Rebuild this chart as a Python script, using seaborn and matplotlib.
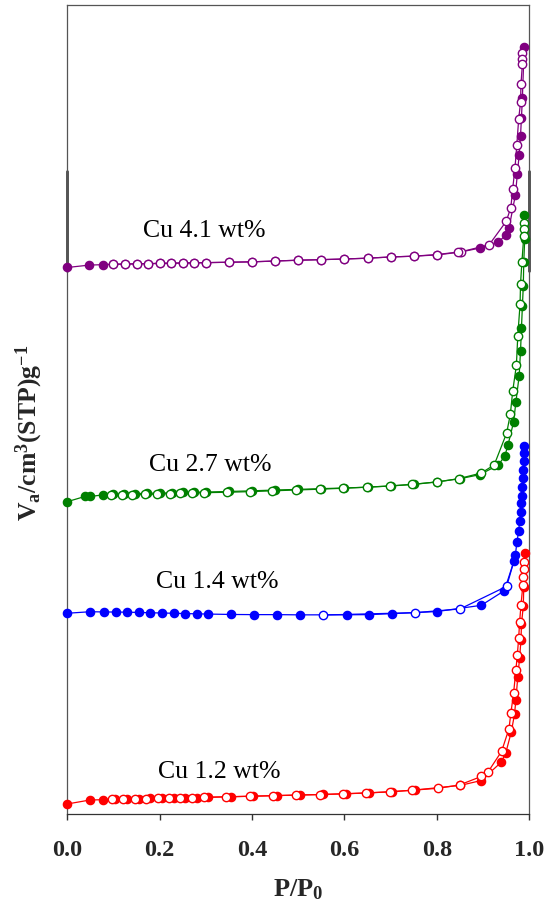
import matplotlib
matplotlib.use("Agg")
import matplotlib.pyplot as plt
import seaborn as sns
import pandas as pd

# ---------------- data (P/P0, plotted volume in stacked plot units) ----------------
series_names = ["Cu 1.2 wt%", "Cu 1.4 wt%", "Cu 2.7 wt%", "Cu 4.1 wt%"]
series_colors = ["#ff0000", "#0000ff", "#008000", "#800080"]

red_ads_p = [0, .049, .078, .104, .13, .155, .18, .205, .23, .255, .28, .305, .354, .403, .454,
             .504, .554, .604, .653, .703, .753, .851, .896, .939, .949, .961, .968, .971, .975,
             .979, .982, .983, .987, .988, .990]
red_ads_v = [1.2, 1.69, 1.73, 1.78, 1.82, 1.86, 1.89, 1.92, 1.95, 1.98, 2.0, 2.03, 2.1, 2.17, 2.24,
             2.31, 2.38, 2.47, 2.58, 2.72, 2.93, 3.5, 4.1, 6.35, 7.5, 10.1, 12.3, 14.1, 16.9,
             19.25, 21.5, 23.4, 25.7, 28.0, 32.2]
red_des_p = [.988, .988, .987, .986, .982, .979, .977, .974, .971, .966, .960, .956, .940, .911,
             .896, .849, .803, .747, .698, .646, .596, .546, .495, .445, .396, .344, .295, .27,
             .245, .22, .196, .17, .146, .121, .097]
red_des_v = [31.1, 30.2, 29.2, 28.2, 25.8, 23.7, 21.7, 19.6, 17.8, 14.9, 12.4, 10.5, 7.7, 5.19,
             4.6, 3.55, 3.14, 2.9, 2.7, 2.55, 2.45, 2.36, 2.3, 2.22, 2.15, 2.08, 2.02, 1.99,
             1.96, 1.93, 1.9, 1.87, 1.84, 1.8, 1.76]

blue_ads_p = [0, .05, .08, .105, .13, .156, .18, .205, .23, .255, .28, .305, .355, .405, .454,
              .504, .605, .653, .703, .80, .896, .946, .967, .970, .973, .977, .979, .982, .983,
              .984, .985, .987, .987, .988, .989, .989]
blue_ads_v = [24.77, 24.96, 24.93, 24.92, 24.9, 24.87, 24.83, 24.8, 24.77, 24.73, 24.7, 24.67,
              24.62, 24.6, 24.6, 24.57, 24.58, 24.6, 24.72, 24.98, 25.75, 27.56, 31.27, 32.0,
              33.54, 34.9, 36.13, 37.25, 38.36, 39.3, 40.34, 41.45, 42.51, 43.55, 44.57, 45.48]
blue_des_p = [.967, .951, .85, .752, .553]
blue_des_v = [31.27, 28.1, 25.3, 24.84, 24.55]

green_ads_p = [0, .038, .05, .077, .1, .123, .146, .172, .2, .226, .25, .275, .3, .35, .4, .45,
               .5, .55, .6, .65, .7, .75, .8, .85, .893, .933, .947, .954, .966, .971, .978,
               .981, .983, .985, .987, .988, .99, .989]
green_ads_v = [38.56, 39.2, 39.2, 39.4, 39.45, 39.5, 39.55, 39.6, 39.62, 39.65, 39.7, 39.72,
               39.75, 39.82, 39.9, 40.0, 40.08, 40.17, 40.25, 40.35, 40.5, 40.7, 41.0, 41.4,
               41.9, 43.1, 44.2, 45.6, 48.4, 50.9, 54.1, 57.2, 60.0, 62.7, 65.25, 68.2, 71.0, 74.0]
green_des_p = [.988, .988, .988, .984, .981, .980, .975, .972, .964, .959, .951, .924, .896,
               .847, .80, .747, .698, .648, .597, .546, .494, .444, .395, .345, .296, .27, .245,
               .222, .195, .168, .141, .118, .095]
green_des_v = [73.0, 72.2, 71.35, 68.2, 65.5, 63.0, 59.0, 55.4, 52.2, 49.4, 47.05, 43.1, 42.1,
               41.4, 41.0, 40.7, 40.5, 40.35, 40.22, 40.1, 40.0, 39.9, 39.8, 39.72, 39.67, 39.62,
               39.58, 39.55, 39.5, 39.45, 39.42, 39.38, 39.35]

purple_ads_p = [0, .048, .078, .1, .125, .15, .175, .2, .225, .25, .275, .3, .35, .4, .45, .5,
                .55, .6, .65, .7, .75, .8, .85, .893, .933, .949, .956, .97, .974, .978, .981,
                .983, .985, .989]
purple_ads_v = [67.5, 67.8, 67.85, 67.9, 67.93, 67.96, 67.99, 68.01, 68.04, 68.06, 68.08, 68.1,
                68.15, 68.2, 68.3, 68.4, 68.47, 68.55, 68.65, 68.8, 68.9, 69.05, 69.4, 69.9,
                70.65, 71.5, 72.35, 76.5, 79.0, 81.4, 83.8, 86.0, 88.5, 94.8]
purple_des_p = [.985, .985, .985, .982, .981, .977, .973, .969, .964, .96, .95, .913, .853, .845,
                .80, .75, .70, .65, .6, .55, .5, .45, .4, .35, .3, .275, .25, .225, .2, .175,
                .15, .125, .1]
purple_des_v = [93.95, 93.3, 92.6, 90.2, 87.9, 85.85, 82.7, 79.8, 77.2, 74.9, 73.2, 70.3, 69.45,
                69.4, 69.1, 68.9, 68.8, 68.65, 68.55, 68.47, 68.4, 68.3, 68.2, 68.15, 68.1,
                68.07, 68.05, 68.02, 68.0, 67.97, 67.95, 67.92, 67.9]

x_ticks = [0.0, 0.2, 0.4, 0.6, 0.8, 1.0]
x_tick_labels = ["0.0", "0.2", "0.4", "0.6", "0.8", "1.0"]

series = [
    (red_ads_p, red_ads_v, red_des_p, red_des_v, 0),
    (blue_ads_p, blue_ads_v, blue_des_p, blue_des_v, 1),
    (green_ads_p, green_ads_v, green_des_p, green_des_v, 0),
    (purple_ads_p, purple_ads_v, purple_des_p, purple_des_v, 0),
]
label_pos = [(0.329, 4.5), (0.325, 28.0), (0.31, 42.5), (0.297, 71.4)]

# ---------------- style ----------------
sns.set_style("white")
plt.rcParams["font.family"] = ["Liberation Serif", "DejaVu Serif"]
plt.rcParams["mathtext.fontset"] = "custom"
plt.rcParams["mathtext.rm"] = "Liberation Serif"
plt.rcParams["mathtext.bf"] = "Liberation Serif:bold"
plt.rcParams["mathtext.it"] = "Liberation Serif:italic"

fig = plt.figure(figsize=(5.56, 9.04), dpi=100)
ax = fig.add_axes([0.121, 0.0988, 0.831, 0.8951])

for (ap, av, dp, dv, des_skip), name, col in zip(series, series_names, series_colors):
    ads = pd.DataFrame({"p": ap, "v": av})
    des = pd.DataFrame({"p": dp, "v": dv})
    sns.lineplot(data=ads, x="p", y="v", sort=False, estimator=None, color=col, lw=0.9,
                 ax=ax, zorder=2)
    sns.lineplot(data=des, x="p", y="v", sort=False, estimator=None, color=col, lw=0.9,
                 ax=ax, zorder=2)
    sns.scatterplot(data=ads, x="p", y="v", color=col, edgecolor=col, s=36, linewidth=0.9,
                    ax=ax, zorder=3, clip_on=False)
    sns.scatterplot(data=des.iloc[des_skip:], x="p", y="v", facecolor="white", edgecolor=col,
                    s=36, linewidth=1.0, ax=ax, zorder=4, clip_on=False)

for name, (lx, ly) in zip(series_names, label_pos):
    ax.text(lx, ly, name, fontsize=18.5, ha="center", va="baseline", color="black")

ax.set_xlim(0, 1.0)
ax.set_ylim(0, 100)
ax.set_xticks(x_ticks)
ax.set_xticklabels(x_tick_labels, fontsize=17.5, fontweight="bold")
ax.set_yticks([])
ax.tick_params(axis="x", direction="out", length=4, width=1.0, color="#333333", pad=14,
               bottom=True)
ax.set_xlabel(r"$\mathbf{P/P_0}$", fontsize=19, labelpad=12)
ax.set_ylabel(r"$\mathbf{V_a/cm^3(STP)g^{-1}}$", fontsize=18.5)
ax.yaxis.set_label_coords(-0.048, 0.4717)

for sp in ax.spines.values():
    sp.set_color("#555555")
    sp.set_linewidth(0.9)
ax.spines["bottom"].set_color("#333333")

# darker spine segments present in the original
ax.axvline(0, ymin=0.6707, ymax=0.794, color="#222222", lw=1.8, clip_on=False, zorder=1)
ax.axvline(1, ymin=0.6707, ymax=0.794, color="#222222", lw=1.8, clip_on=False, zorder=1)

fig.savefig("out.png", dpi=100)
